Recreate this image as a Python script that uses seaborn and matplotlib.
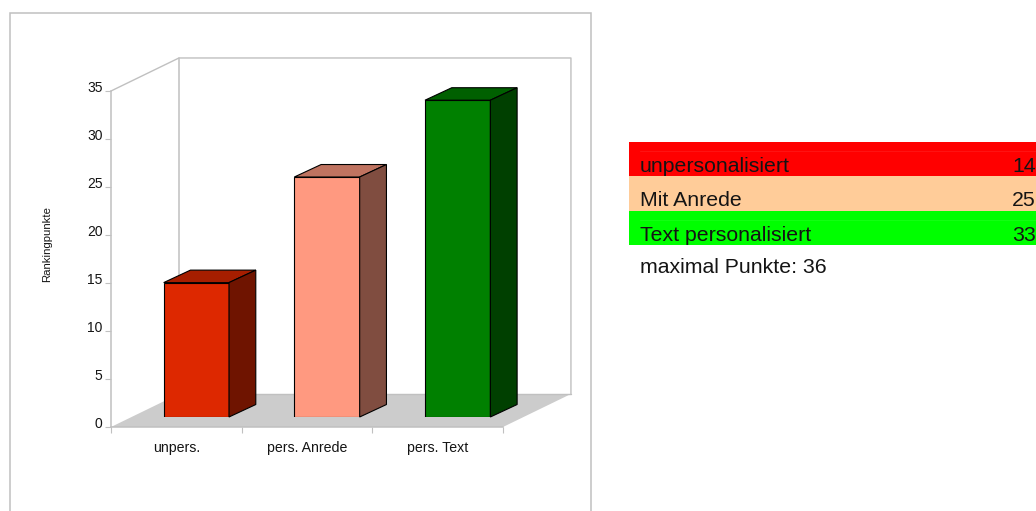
import numpy as np
import seaborn as sns
import matplotlib.pyplot as plt
from matplotlib.colors import to_rgb
from matplotlib.patches import Polygon, Rectangle
from matplotlib.transforms import ScaledTranslation

categories = ['unpers.', 'pers. Anrede', 'pers. Text']
points = [14, 25, 33]
bar_colors = ['#dd2800', '#ff9980', '#008000']
y_ticks = [0, 5, 10, 15, 20, 25, 30, 35]
y_label = 'Rankingpunkte'

table_labels = ['unpersonalisiert', 'Mit Anrede', 'Text personalisiert']
table_values = [14, 25, 33]
table_colors = ['#ff0000', '#ffcc99', '#00ff00']
table_note = 'maximal Punkte: 36'

W, H = 1036, 511
GRAY = '#c0c0c0'
TEXT = '#141414'


# pixel box (top-left origin) to figure fractions
def px_box(left, top, right, bottom):
    return [left / W, 1 - bottom / H, (right - left) / W, (bottom - top) / H]


sns.set_style('white')
plt.rcParams['font.family'] = ['Liberation Sans', 'DejaVu Sans']

fig = plt.figure(figsize=(W / 100, H / 100), dpi=100)
fig.patch.set_facecolor('white')

# outer chart frame, runs off the bottom of the picture
fig.add_artist(Rectangle((10 / W, -0.02), 581 / W, 1.02 - 13 / H, transform=fig.transFigure,
                         fill=False, edgecolor=GRAY, linewidth=1.1))

# main axes with floor and back wall
ax = fig.add_axes(px_box(111, 91, 503, 427))
ax.set_facecolor('none')
ax.set_xlim(-0.5, 2.5)
ax.set_ylim(0, 35)

wall_dx, wall_dy = 0.52, 3.44
x0, x1, y0, y1 = -0.5, 2.5, 0, 35
ax.add_patch(Polygon([(x0, y0), (x1, y0), (x1 + wall_dx, y0 + wall_dy), (x0 + wall_dx, y0 + wall_dy)],
                     closed=True, facecolor='#cccccc', edgecolor='none', clip_on=False, zorder=1))
ax.plot([x0, x0 + wall_dx, x1 + wall_dx, x1 + wall_dx], [y1, y1 + wall_dy, y1 + wall_dy, y0 + wall_dy],
        color=GRAY, lw=1.0, clip_on=False, zorder=1)
ax.plot([x0 + wall_dx, x0 + wall_dx], [y0 + wall_dy, y1 + wall_dy], color=GRAY, lw=1.1, clip_on=False, zorder=1)
ax.plot([x0 + wall_dx, x1 + wall_dx], [y0 + wall_dy, y0 + wall_dy], color=GRAY, lw=1.0, clip_on=False, zorder=2)

for side in ['top', 'right']:
    ax.spines[side].set_visible(False)
for side in ['left', 'bottom']:
    ax.spines[side].set_color(GRAY)
    ax.spines[side].set_linewidth(1.1)

ax.set_yticks(y_ticks)
ax.tick_params(axis='y', left=True, length=4, width=0.8, color=GRAY, labelsize=10, labelcolor=TEXT, pad=2)
# the number labels sit a little above their tick
up = ScaledTranslation(0, 5 / 100, fig.dpi_scale_trans)
for lab in ax.get_yticklabels():
    lab.set_transform(lab.get_transform() + up)
ax.set_xticks([-0.5, 0.5, 1.5, 2.5], labels=[])
ax.set_xticks([0, 1, 2], labels=categories, minor=True)
ax.tick_params(axis='x', which='major', bottom=True, length=4, width=0.8, color=GRAY)
ax.tick_params(axis='x', which='minor', bottom=False, length=0, labelsize=10.2, labelcolor=TEXT, pad=10)
fig.text(47 / W, 1 - 244 / H, y_label, rotation=90, ha='center', va='center', fontsize=8.2, color=TEXT)

# bars sit a bit inside the floor, so they get their own shifted axes
ax_bars = fig.add_axes(px_box(131, 81, 523, 417))
sns.barplot(x=categories, y=points, hue=categories, palette=bar_colors, legend=False, width=0.5,
            edgecolor='black', linewidth=0.8, saturation=1, ax=ax_bars)
ax_bars.set_xlim(-0.5, 2.5)
ax_bars.set_ylim(0, 35)
ax_bars.patch.set_alpha(0)
ax_bars.axis('off')

bar_dx, bar_dy = 0.205, 1.3
for bar, color in zip(ax_bars.patches, bar_colors):
    left, right, top = bar.get_x(), bar.get_x() + bar.get_width(), bar.get_height()
    rgb = np.array(to_rgb(color))
    ax_bars.add_patch(Polygon([(left, top), (right, top), (right + bar_dx, top + bar_dy), (left + bar_dx, top + bar_dy)],
                              closed=True, facecolor=rgb * 0.75, edgecolor='black', linewidth=0.8, clip_on=False))
    ax_bars.add_patch(Polygon([(right, 0), (right + bar_dx, bar_dy), (right + bar_dx, top + bar_dy), (right, top)],
                              closed=True, facecolor=rgb * 0.5, edgecolor='black', linewidth=0.8, clip_on=False))

# table on the right
ax_table = fig.add_axes(px_box(629, 142, 1036, 279))
ax_table.set_xlim(0, 1)
ax_table.set_ylim(4, 0)
ax_table.axis('off')
for i, (label, value, color) in enumerate(zip(table_labels, table_values, table_colors)):
    ax_table.axhspan(i, i + 1, color=color, lw=0)
    ax_table.text(0.027, i + 0.88, label, fontsize=15.3, color=TEXT, va='baseline')
    ax_table.text(1.0, i + 0.88, str(value), fontsize=15.3, color=TEXT, va='baseline', ha='right')
# faint cell border left in the coloured rows
for i in [0, 2]:
    ax_table.plot([0.027, 1], [i + 0.27, i + 0.27], color='white', alpha=0.08, lw=0.7)
ax_table.text(0.027, 3.83, table_note, fontsize=15.3, color=TEXT, va='baseline')

fig.savefig('out.png', dpi=100)
